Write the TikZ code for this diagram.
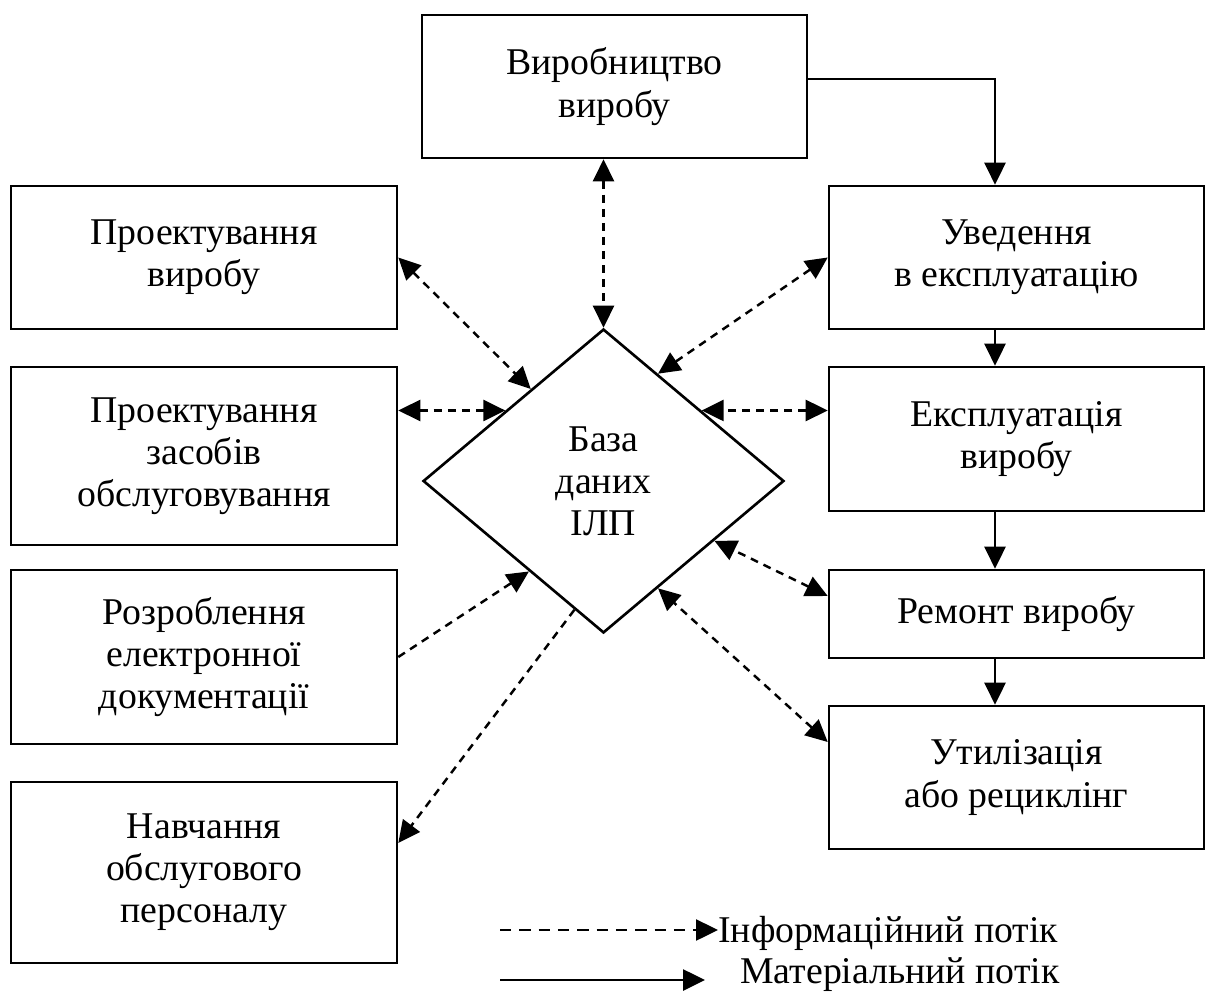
\documentclass[tikz,border=0pt]{standalone}
\usepackage{fontspec}
\setmainfont{Liberation Serif}
\usetikzlibrary{arrows.meta,shapes.geometric,calc}

\begin{document}
\begin{tikzpicture}[x=0.02cm, y=-0.02cm, >={Triangle[length=0.44cm,width=0.42cm]},
        font=\fontsize{21.5pt}{24pt}\selectfont]
        \tikzset{blok/.style={draw, line width=1.5pt, align=center, inner sep=2pt},
                 info/.style={line width=1.4pt, dash pattern=on 4.5pt off 3.5pt},
                 mat/.style={line width=1.5pt, ->}}
        \useasboundingbox (0,0) rectangle (1206,993);

        % blocks
        \node[blok, minimum width=7.7cm, minimum height=2.86cm] (vyr) at (614.5,86.5) {Виробництво\\виробу};
        \node[blok, minimum width=7.72cm, minimum height=2.86cm] (pv) at (204,257.5) {Проектування\\виробу};
        \node[blok, minimum width=7.72cm, minimum height=3.56cm] (pz) at (204,456) {Проектування\\засобів\\обслуговування};
        \node[blok, minimum width=7.72cm, minimum height=3.48cm] (re) at (204,657) {Розроблення\\електронної\\документації};
        \node[blok, minimum width=7.72cm, minimum height=3.62cm] (nav) at (204,872.5) {Навчання\\обслугового\\персоналу};
        \node[blok, minimum width=7.5cm, minimum height=2.86cm] (uv) at (1016.5,257.5) {Уведення\\в експлуатацію};
        \node[blok, minimum width=7.5cm, minimum height=2.88cm] (ek) at (1016.5,439) {Експлуатація\\виробу};
        \node[blok, minimum width=7.5cm, minimum height=1.76cm] (rem) at (1016.5,614) {Ремонт виробу};
        \node[blok, minimum width=7.5cm, minimum height=2.86cm] (ut) at (1016.5,777.5) {Утилізація\\або рециклінг};
        \node[draw, diamond, line width=1.5pt, align=center, inner sep=0pt,
              minimum width=7.22cm, minimum height=6.08cm] (dia) at (603.5,481) {База\\даних\\ІЛП};

        % points on the diamond
        \coordinate (d1) at ($(dia.north)!0.4!(dia.west)$);
        \coordinate (d2) at ($(dia.north)!0.54!(dia.west)$);
        \coordinate (d3) at ($(dia.west)!0.59!(dia.south)$);
        \coordinate (d4) at ($(dia.west)!0.84!(dia.south)$);
        \coordinate (d5) at ($(dia.north)!0.3!(dia.east)$);
        \coordinate (d6) at ($(dia.north)!0.54!(dia.east)$);
        \coordinate (d7) at ($(dia.east)!0.39!(dia.south)$);
        \coordinate (d8) at ($(dia.east)!0.7!(dia.south)$);
        \coordinate (n4) at (397,843);
        \coordinate (r7) at (829,596);
        \coordinate (r8) at (829,742);

        % information flow
        \draw[info, <->] (vyr.south -| dia.north) -- (dia.north);
        \draw[info, <->] (pv.east) -- (d1);
        \draw[info, <->] (pz.east |- d2) -- (d2);
        \draw[info, ->] (re.east) -- (d3);
        \draw[info, ->] (d4) -- (nav.east |- n4);
        \draw[info, <->] (uv.west) -- (d5);
        \draw[info, <->] (ek.west |- d6) -- (d6);
        \draw[info, <->] (rem.west |- r7) -- (d7);
        \draw[info, <->] (ut.west |- r8) -- (d8);

        % material flow
        \coordinate (m) at (995,79);
        \draw[mat] (vyr.east |- m) -| (uv.north -| m);
        \draw[mat] (uv.south -| m) -- (ek.north -| m);
        \draw[mat] (ek.south -| m) -- (rem.north -| m);
        \draw[mat] (rem.south -| m) -- (ut.north -| m);

        % legend
        \node[anchor=west, inner sep=0pt] (linf) at (718,933) {Інформаційний потік};
        \node[anchor=west, inner sep=0pt] (lmat) at (740,975) {Матеріальний потік};
        \coordinate (inf0) at (500,930);
        \coordinate (mat0) at (500,980);
        \coordinate (mat1) at (705,980);
        \draw[info, dash pattern=on 6.5pt off 4.5pt, ->] (inf0) -- (linf.west |- inf0);
        \draw[mat] (mat0) -- (mat1);
\end{tikzpicture}
\end{document}
